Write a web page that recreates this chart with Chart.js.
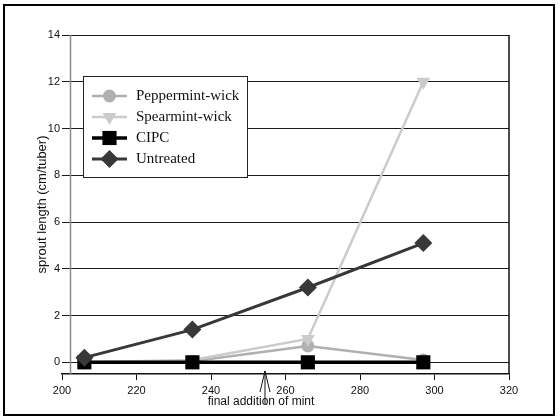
<!DOCTYPE html>
<html>
<head>
<meta charset="utf-8">
<script src="https://cdn.jsdelivr.net/npm/chart.js@4/dist/chart.umd.min.js"></script>
<style>
  html, body { margin: 0; padding: 0; background: #fff; }
  #wrap { width: 560px; height: 416px; }
</style>
</head>
<body>
<div id="wrap"><canvas id="c" width="560" height="416"></canvas></div>
<script>
// ---- data ----
const days = [206, 235, 266, 297];
const peppermint = [0, 0.05, 0.7, 0.1];
const spearmint = [0, 0.1, 1.0, 12];
const cipc = [0, 0, 0, 0];
const untreated = [0.2, 1.4, 3.2, 5.1];
const seriesNames = ['Peppermint-wick', 'Spearmint-wick', 'CIPC', 'Untreated'];
const yTicks = [0, 2, 4, 6, 8, 10, 12, 14];
const xTicks = [200, 220, 240, 260, 280, 300, 320];
const yAxisTitle = 'sprout length (cm/tuber)';
const annotationText = 'final addition of mint';
const annotationX = 254.5;
const yAxisCross = 202.2;

const pts = arr => days.map((d, i) => ({ x: d, y: arr[i] }));

const datasets = [
  { label: seriesNames[0], data: pts(peppermint), borderColor: '#b0b0b0', backgroundColor: '#b0b0b0',
    borderWidth: 2.5, pointStyle: 'circle', pointRadius: 6.5, pointBorderWidth: 0, pointRotation: 0, order: 4 },
  { label: seriesNames[1], data: pts(spearmint), borderColor: '#cbcbcb', backgroundColor: '#cbcbcb',
    borderWidth: 2.5, pointStyle: 'triangle', pointRadius: 8, pointBorderWidth: 0, pointRotation: 180, order: 3 },
  { label: seriesNames[2], data: pts(cipc), borderColor: '#000000', backgroundColor: '#000000',
    borderWidth: 3.5, pointStyle: 'rect', pointRadius: 10, pointBorderWidth: 0, pointRotation: 0, order: 2 },
  { label: seriesNames[3], data: pts(untreated), borderColor: '#383838', backgroundColor: '#383838',
    borderWidth: 3, pointStyle: 'rectRot', pointRadius: 9, pointBorderWidth: 0, pointRotation: 0, order: 1 }
];
datasets.forEach(d => { d.showLine = true; d.fill = false; d.tension = 0; d.pointHoverRadius = d.pointRadius; });

const decor = {
  id: 'decor',
  beforeDatasetsDraw(chart) {
    const { ctx, chartArea: a, scales: { x } } = chart;
    ctx.save();
    // y axis line (gray) at the crossing value
    const yx = Math.round(x.getPixelForValue(yAxisCross)) + 0.5;
    ctx.strokeStyle = '#8a8a8a';
    ctx.lineWidth = 1.5;
    ctx.beginPath(); ctx.moveTo(yx, a.top); ctx.lineTo(yx, a.bottom); ctx.stroke();
    // right border
    ctx.strokeStyle = '#111';
    ctx.lineWidth = 1.5;
    ctx.beginPath(); ctx.moveTo(a.right, a.top); ctx.lineTo(a.right, a.bottom); ctx.stroke();
    ctx.restore();
  },
  afterDatasetsDraw(chart) {
    const { ctx, chartArea: a, scales: { x } } = chart;
    ctx.save();
    // legend box
    const bx = 83.5, by = 76.5, bw = 164, bh = 101;
    ctx.fillStyle = '#fff';
    ctx.fillRect(bx, by, bw, bh);
    ctx.strokeStyle = '#222';
    ctx.lineWidth = 1;
    ctx.strokeRect(bx, by, bw, bh);
    const rowY = [96, 117, 138, 159];
    chart.data.datasets.forEach((ds, i) => {
      const y = rowY[i];
      ctx.strokeStyle = ds.borderColor;
      ctx.lineWidth = ds.borderWidth;
      ctx.beginPath(); ctx.moveTo(92, y); ctx.lineTo(127, y); ctx.stroke();
      ctx.fillStyle = ds.backgroundColor;
      ctx.strokeStyle = ds.backgroundColor;
      Chart.helpers.drawPoint(ctx, {
        pointStyle: ds.pointStyle, radius: ds.pointRadius, rotation: ds.pointRotation, borderWidth: 0
      }, 109.5, y);
      ctx.fillStyle = '#111';
      ctx.font = '15px "Liberation Serif", "Times New Roman", serif';
      ctx.textAlign = 'left';
      ctx.textBaseline = 'middle';
      ctx.fillText(ds.label, 136, y + 0.5);
    });
    // outer frame
    ctx.strokeStyle = '#000';
    ctx.lineWidth = 2;
    ctx.strokeRect(4, 5, 550, 410);
    // annotation arrow + text
    const ax = x.getPixelForValue(annotationX);
    const tipY = a.bottom - 3;
    ctx.strokeStyle = '#111';
    ctx.lineWidth = 1;
    ctx.beginPath();
    ctx.moveTo(ax - 5, tipY + 21); ctx.lineTo(ax, tipY); ctx.lineTo(ax + 5, tipY + 21);
    ctx.moveTo(ax, tipY); ctx.lineTo(ax, tipY + 33);
    ctx.stroke();
    ctx.fillStyle = '#111';
    ctx.font = '12px "Liberation Sans", Arial, sans-serif';
    ctx.textAlign = 'center';
    ctx.textBaseline = 'middle';
    ctx.fillText(annotationText, ax - 4, 402);
    ctx.restore();
  }
};

new Chart(document.getElementById('c'), {
  type: 'scatter',
  data: { datasets },
  options: {
    responsive: false,
    devicePixelRatio: 1,
    animation: false,
    events: [],
    layout: { padding: { left: 0, right: 51, top: 35, bottom: 0 } },
    plugins: { legend: { display: false }, tooltip: { enabled: false } },
    scales: {
      x: {
        type: 'linear', min: xTicks[0], max: xTicks[xTicks.length - 1],
        afterBuildTicks: s => { s.ticks = xTicks.map(v => ({ value: v })); },
        afterFit: s => { s.height = 42; },
        ticks: { color: '#111', font: { family: '"Liberation Sans", Arial, sans-serif', size: 11 }, padding: 4, maxRotation: 0 },
        grid: { drawOnChartArea: false, drawTicks: true, tickLength: 6, color: '#111', lineWidth: 1 },
        border: { display: true, color: '#111', width: 1.5 }
      },
      y: {
        type: 'linear', min: -0.5, max: 14,
        afterBuildTicks: s => { s.ticks = yTicks.map(v => ({ value: v })); },
        afterFit: s => { s.width = 62; },
        ticks: { color: '#111', font: { family: '"Liberation Sans", Arial, sans-serif', size: 11 }, padding: 2 },
        grid: { drawTicks: false, color: '#1a1a1a', lineWidth: 1 },
        border: { display: false },
        title: { display: true, text: yAxisTitle, color: '#111',
                 font: { family: '"Liberation Sans", Arial, sans-serif', size: 13 },
                 padding: { top: 35, bottom: 0 } }
      }
    }
  },
  plugins: [decor]
});
</script>
</body>
</html>
